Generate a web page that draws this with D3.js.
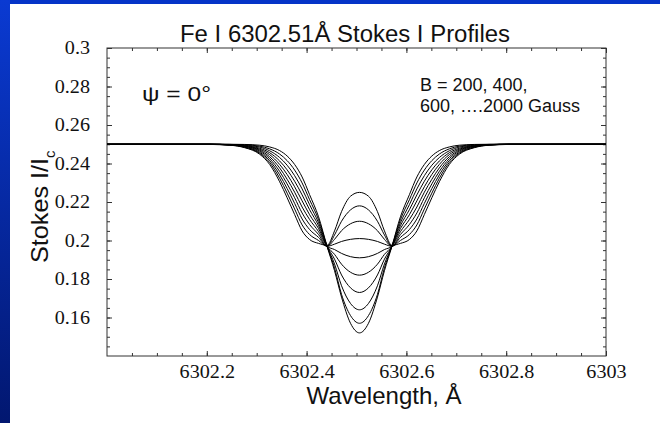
<!DOCTYPE html>
<html>
<head>
<meta charset="utf-8">
<script src="https://cdn.jsdelivr.net/npm/d3@7"></script>
<style>
  body { margin: 0; background: #fff; }
  svg { display: block; }
  .axis path { display: none; }
  .axis line { stroke: #333; stroke-width: 1; }
  .label { font-family: "Liberation Sans", Arial, sans-serif; fill: #111; }
  .profile { fill: none; stroke: #000; stroke-width: 1; }
</style>
</head>
<body>
<div id="chart"></div>
<script>
// field strengths, one profile each (Gauss)
var fields = [200, 400, 600, 800, 1000, 1200, 1400, 1600, 1800, 2000];

var lineCenter = 6302.506;
var offsets = [0, 0.018, 0.036, 0.05, 0.065, 0.082, 0.1, 0.115, 0.13, 0.145, 0.16, 0.18, 0.2, 0.23, 0.26, 0.3, 0.55];

// Stokes I / Ic at each offset (profiles are symmetric about the centre)
var prof200  = [0.152, 0.157, 0.1706, 0.1843, 0.197, 0.2123, 0.2238, 0.2330, 0.2395, 0.2439, 0.2467, 0.2486, 0.2495, 0.2499, 0.25, 0.25, 0.25];
var prof400  = [0.157, 0.161, 0.172, 0.1858, 0.197, 0.2108, 0.2212, 0.2299, 0.2366, 0.2415, 0.2449, 0.2476, 0.2490, 0.2497, 0.2499, 0.25, 0.25];
var prof600  = [0.164, 0.1673, 0.1765, 0.1878, 0.197, 0.2092, 0.2186, 0.2268, 0.2337, 0.2391, 0.2431, 0.2466, 0.2485, 0.2495, 0.2499, 0.25, 0.25];
var prof800  = [0.173, 0.1754, 0.1821, 0.1903, 0.197, 0.2077, 0.2160, 0.2237, 0.2308, 0.2367, 0.2413, 0.2456, 0.2479, 0.2493, 0.2498, 0.25, 0.25];
var prof1000 = [0.182, 0.1835, 0.1877, 0.1928, 0.197, 0.2062, 0.2134, 0.2206, 0.2279, 0.2343, 0.2395, 0.2446, 0.2474, 0.2491, 0.2498, 0.25, 0.25];
var prof1200 = [0.191, 0.1916, 0.1933, 0.1953, 0.197, 0.2046, 0.2109, 0.2174, 0.2251, 0.2318, 0.2377, 0.2435, 0.2469, 0.2490, 0.2497, 0.25, 0.25];
var prof1400 = [0.201, 0.2006, 0.1995, 0.1981, 0.197, 0.2031, 0.2083, 0.2143, 0.2222, 0.2294, 0.2359, 0.2425, 0.2464, 0.2488, 0.2497, 0.25, 0.25];
var prof1600 = [0.210, 0.2087, 0.2051, 0.2006, 0.197, 0.2016, 0.2057, 0.2112, 0.2193, 0.2270, 0.2341, 0.2415, 0.2458, 0.2486, 0.2496, 0.25, 0.25];
var prof1800 = [0.218, 0.2159, 0.2100, 0.2029, 0.197, 0.2000, 0.2031, 0.2081, 0.2164, 0.2246, 0.2323, 0.2405, 0.2453, 0.2484, 0.2496, 0.2499, 0.25];
var prof2000 = [0.225, 0.223, 0.215, 0.205, 0.1975, 0.1985, 0.2005, 0.2050, 0.2135, 0.2222, 0.2305, 0.2395, 0.2448, 0.2482, 0.2495, 0.2499, 0.25];
var profiles = [prof200, prof400, prof600, prof800, prof1000, prof1200, prof1400, prof1600, prof1800, prof2000];

// tick values and labels
var xTicks = [6302.2, 6302.4, 6302.6, 6302.8, 6303];
var xTickLabels = ["6302.2", "6302.4", "6302.6", "6302.8", "6303"];
var yTicks = [0.16, 0.18, 0.2, 0.22, 0.24, 0.26, 0.28, 0.3];
var yTickLabels = ["0.16", "0.18", "0.2", "0.22", "0.24", "0.26", "0.28", "0.3"];

var W = 660, H = 423;
var margin = {top: 48, right: 54, bottom: 67, left: 107},
    width = W - margin.left - margin.right,
    height = H - margin.top - margin.bottom;

var serif = "'Liberation Serif', 'Times New Roman', Times, serif";

var root = d3.select("#chart").append("svg")
    .attr("width", W)
    .attr("height", H);

// slide background: blue band on top and a gradient strip on the left
var defs = root.append("defs");
var grad = defs.append("linearGradient")
    .attr("id", "leftband")
    .attr("x1", 0).attr("y1", 0).attr("x2", 0).attr("y2", 1);
grad.append("stop").attr("offset", "0%").attr("stop-color", "#0a3ad2");
grad.append("stop").attr("offset", "100%").attr("stop-color", "#021770");

root.append("rect").attr("x", 0).attr("y", 0).attr("width", W).attr("height", H).attr("fill", "#fff");
root.append("rect").attr("x", 0).attr("y", 0).attr("width", W).attr("height", 4).attr("fill", "#0434c8");
root.append("rect").attr("x", 0).attr("y", 0).attr("width", 10).attr("height", H).attr("fill", "url(#leftband)");

defs.append("clipPath").attr("id", "plotclip")
  .append("rect").attr("width", width).attr("height", height);

var svg = root.append("g")
    .attr("transform", "translate(" + margin.left + "," + margin.top + ")");

var x = d3.scaleLinear().domain([6302, 6303]).range([0, width]);
var y = d3.scaleLinear().domain([0.14, 0.3]).range([height, 0]);

var xMinor = d3.range(6302.05, 6303, 0.05);
var yMinor = d3.range(0.145, 0.3, 0.005);

// minor ticks, all four sides, pointing inward
svg.append("g").attr("class", "axis")
    .attr("transform", "translate(0," + height + ")")
    .call(d3.axisBottom(x).tickValues(xMinor).tickSize(-3).tickFormat(""));
svg.append("g").attr("class", "axis")
    .call(d3.axisTop(x).tickValues(xMinor).tickSize(-3).tickFormat(""));
svg.append("g").attr("class", "axis")
    .call(d3.axisLeft(y).tickValues(yMinor).tickSize(-3).tickFormat(""));
svg.append("g").attr("class", "axis")
    .attr("transform", "translate(" + width + ",0)")
    .call(d3.axisRight(y).tickValues(yMinor).tickSize(-3).tickFormat(""));

// major ticks
var xAxis = svg.append("g").attr("class", "axis")
    .attr("transform", "translate(0," + height + ")")
    .call(d3.axisBottom(x).tickValues(xTicks).tickSize(-5).tickSizeOuter(0)
      .tickFormat(function(d, i){ return xTickLabels[i]; }));
xAxis.selectAll("text")
    .attr("y", 22.5).attr("dy", 0)
    .attr("transform", "scale(1.12,1)")
    .style("font-family", serif)
    .style("font-size", "18px")
    .style("fill", "#111");

var yAxis = svg.append("g").attr("class", "axis")
    .call(d3.axisLeft(y).tickValues(yTicks).tickSize(-5).tickSizeOuter(0)
      .tickFormat(function(d, i){ return yTickLabels[i]; }));
yAxis.selectAll("text")
    .attr("x", -17 / 1.12).attr("dy", "0.33em")
    .attr("transform", "scale(1.12,1)")
    .style("font-family", serif)
    .style("font-size", "18px")
    .style("fill", "#111");

svg.append("g").attr("class", "axis")
    .call(d3.axisTop(x).tickValues(xTicks).tickSize(-5).tickFormat(""));
svg.append("g").attr("class", "axis")
    .attr("transform", "translate(" + width + ",0)")
    .call(d3.axisRight(y).tickValues(yTicks).tickSize(-5).tickFormat(""));

// frame
svg.append("rect")
    .attr("width", width).attr("height", height)
    .attr("fill", "none").attr("stroke", "#333").attr("stroke-width", 1);

// profiles, mirrored about the line centre
var line = d3.line()
    .x(function(d){ return x(d.wl); })
    .y(function(d){ return y(d.v); })
    .curve(d3.curveMonotoneX);

var series = profiles.map(function(p, k){
  var pts = [];
  for (var i = offsets.length - 1; i > 0; i--) pts.push({wl: lineCenter - offsets[i], v: p[i]});
  for (var j = 0; j < offsets.length; j++) pts.push({wl: lineCenter + offsets[j], v: p[j]});
  return {B: fields[k], pts: pts};
});

svg.append("g").attr("clip-path", "url(#plotclip)")
  .selectAll(".profile")
  .data(series)
  .enter().append("path")
    .attr("class", "profile")
    .attr("d", function(d){ return line(d.pts); });

// texts
root.append("text").attr("class", "label")
    .attr("x", 345).attr("y", 42)
    .attr("text-anchor", "middle")
    .attr("textLength", 330).attr("lengthAdjust", "spacingAndGlyphs")
    .style("font-size", "23px")
    .text("Fe I 6302.51Å Stokes I Profiles");

root.append("text").attr("class", "label")
    .attr("x", 384).attr("y", 404)
    .attr("text-anchor", "middle")
    .style("font-size", "24px")
    .text("Wavelength, Å");

var yl = root.append("text").attr("class", "label")
    .attr("transform", "translate(48,263) rotate(-90)")
    .style("font-size", "24px");
yl.append("tspan").attr("textLength", 105).attr("lengthAdjust", "spacingAndGlyphs").text("Stokes I/I");
yl.append("tspan").attr("dy", 7).style("font-size", "15px").text("c");

root.append("text").attr("class", "label")
    .attr("x", 142).attr("y", 101)
    .attr("textLength", 69).attr("lengthAdjust", "spacingAndGlyphs")
    .style("font-size", "21px")
    .text("ψ = 0°");

root.append("text").attr("class", "label")
    .attr("x", 420).attr("y", 91)
    .style("font-size", "18px")
    .text("B = 200, 400,");
root.append("text").attr("class", "label")
    .attr("x", 420).attr("y", 112)
    .style("font-size", "18px")
    .text("600, ….2000 Gauss");
</script>
</body>
</html>
